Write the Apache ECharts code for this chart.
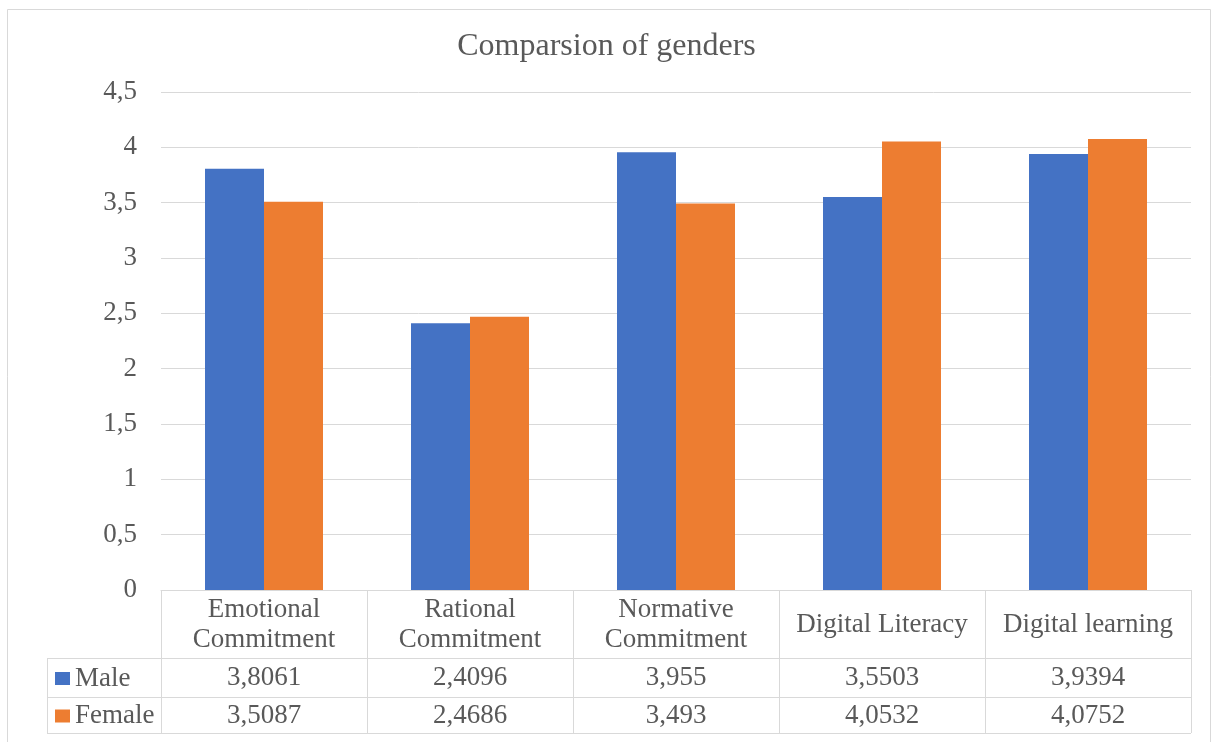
<!DOCTYPE html>
<html>
<head>
<meta charset="utf-8">
<script src="https://cdn.jsdelivr.net/npm/echarts@6/dist/echarts.min.js"></script>
<style>
html,body{margin:0;padding:0;background:#fff;}
#chart{width:1213px;height:742px;}
</style>
</head>
<body>
<div id="chart"></div>
<script>
const titleText = 'Comparsion of genders';
const categories = ['Emotional\nCommitment', 'Rational\nCommitment', 'Normative\nCommitment', 'Digital Literacy', 'Digital learning'];
const seriesNames = ['Male', 'Female'];
const maleValues = [3.8061, 2.4096, 3.955, 3.5503, 3.9394];
const femaleValues = [3.5087, 2.4686, 3.493, 4.0532, 4.0752];
const yTicks = [0, 0.5, 1, 1.5, 2, 2.5, 3, 3.5, 4, 4.5];

const FONT = '"Liberation Serif", "Times New Roman", serif';
const TEXT = '#595959';
const LINE = '#D9D9D9';
const BLUE = '#4472C4';
const ORANGE = '#ED7D31';
const seriesColors = [BLUE, ORANGE];

const gridLeft = 161, gridRight = 1191, gridTop = 92, gridBottom = 590;
const rowLines = [658, 697, 733];
const tableLeft = 47;

const fmt = v => String(v).replace('.', ',');

const chart = echarts.init(document.getElementById('chart'), null, {renderer: 'canvas'});

const graphics = [
  {type: 'rect', shape: {x: 7.5, y: 9.5, width: 1203, height: 740}, style: {fill: 'none', stroke: LINE, lineWidth: 1}, z: -1}
];
rowLines.forEach(y => {
  graphics.push({type: 'line', shape: {x1: tableLeft, y1: y + 0.5, x2: gridRight, y2: y + 0.5}, style: {stroke: LINE, lineWidth: 1}});
});
graphics.push({type: 'line', shape: {x1: tableLeft + 0.5, y1: rowLines[0], x2: tableLeft + 0.5, y2: rowLines[2]}, style: {stroke: LINE, lineWidth: 1}});
// row headers (legend keys) of the data table
seriesNames.forEach((name, i) => {
  const cy = (rowLines[i] + rowLines[i + 1]) / 2 + 1;
  graphics.push({type: 'rect', shape: {x: 55, y: cy - 6.5, width: 15, height: 13}, style: {fill: seriesColors[i]}});
  graphics.push({
    type: 'text', x: 75, y: cy,
    style: {text: name, fontFamily: FONT, fontSize: 27, fontWeight: 'normal', fill: TEXT, verticalAlign: 'middle', align: 'left'}
  });
});

const rowAxis = (vals, offset, margin) => ({
  type: 'category',
  gridIndex: 0,
  position: 'bottom',
  offset: offset,
  data: vals.map(fmt),
  axisLine: {show: false},
  axisTick: {show: false},
  splitLine: {show: false},
  axisLabel: {
    interval: 0, margin: margin, verticalAlign: 'middle',
    fontFamily: FONT, fontSize: 27, color: TEXT
  }
});

chart.setOption({
  animation: false,
  backgroundColor: '#fff',
  title: {
    text: titleText,
    left: 'center',
    top: 26,
    textStyle: {fontFamily: FONT, fontSize: 32, fontWeight: 'normal', color: TEXT}
  },
  grid: {left: gridLeft, right: 1213 - gridRight, top: gridTop, bottom: 742 - gridBottom, containLabel: false},
  xAxis: [
    {
      type: 'category',
      data: categories,
      position: 'bottom',
      axisLine: {show: true, lineStyle: {color: LINE, width: 1}},
      axisTick: {show: true, length: rowLines[2] - gridBottom, inside: false, lineStyle: {color: LINE, width: 1}},
      axisLabel: {interval: 0, margin: 35, verticalAlign: 'middle', lineHeight: 30, fontFamily: FONT, fontSize: 27, color: TEXT}
    },
    rowAxis(maleValues, rowLines[0] - gridBottom, 20),
    rowAxis(femaleValues, rowLines[1] - gridBottom, 19)
  ],
  yAxis: {
    type: 'value',
    min: yTicks[0],
    max: yTicks[yTicks.length - 1],
    interval: yTicks[1] - yTicks[0],
    axisLine: {show: false},
    axisTick: {show: false},
    splitLine: {lineStyle: {color: LINE, width: 1}},
    axisLabel: {margin: 24, fontFamily: FONT, fontSize: 27, color: TEXT, formatter: v => fmt(v)}
  },
  series: [
    {name: seriesNames[0], type: 'bar', data: maleValues, itemStyle: {color: BLUE}, barWidth: 59, barGap: '0%', xAxisIndex: 0},
    {name: seriesNames[1], type: 'bar', data: femaleValues, itemStyle: {color: ORANGE}, barWidth: 59, barGap: '0%', xAxisIndex: 0}
  ],
  graphic: graphics
});
</script>
</body>
</html>
